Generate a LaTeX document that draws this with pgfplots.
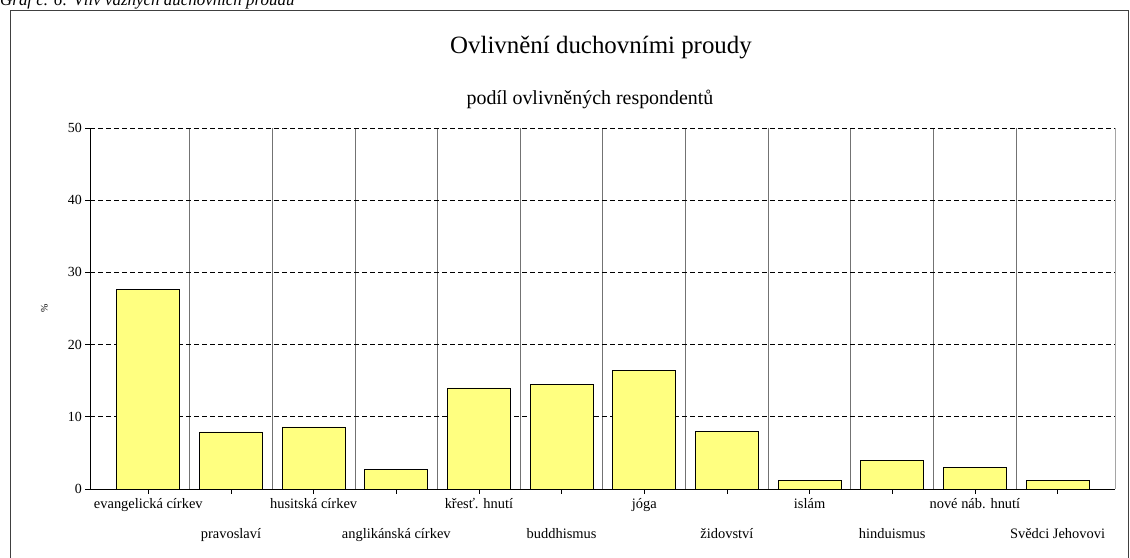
\documentclass[border=0pt]{standalone}
\usepackage{pgfplots}
\pgfplotsset{compat=1.18}
\usepackage{fontspec}
\setmainfont{Liberation Serif}
\definecolor{baryellow}{HTML}{FFFF80}
\begin{document}
\begin{tikzpicture}
\useasboundingbox (0bp,0bp) rectangle (1130bp,558bp);
\draw[line width=0.8bp, black!75] (10bp,-5bp) rectangle (1128bp,548bp);
\node[anchor=base west, font=\fontsize{17}{19}\selectfont\itshape, inner sep=0] at (0bp,552bp) {Graf č. 6: Vliv vážných duchovních proudů};
\node[anchor=base, font=\fontsize{25}{28}\selectfont, inner sep=0] at (601bp,504bp) {Ovlivnění duchovními proudy};
\node[anchor=base, font=\fontsize{20}{22}\selectfont, inner sep=0] at (590bp,453bp) {podíl ovlivněných respondentů};
\begin{axis}[
  at={(148.3bp,69bp)}, anchor=origin, scale only axis,
  width=1025bp, height=361bp,
  xmin=-0.7, xmax=11.7, ymin=0, ymax=50,
  axis x line*=bottom, axis y line*=left,
  axis line style={-, black, line width=0.8bp},
  tick align=outside, major tick length=5bp,
  tick style={black, line width=0.8bp},
  xtick pos=bottom, ytick pos=left,
  ytick={0,10,20,30,40,50},
  ymajorgrids,
  major grid style={dash pattern=on 5bp off 3bp, black, line width=0.7bp},
  minor xtick={0.5,1.5,...,10.5},
  xminorgrids,
  minor grid style={solid, black!55, line width=0.9bp},
  minor tick length=0pt,
  xtick={0,2,4,6,8,10},
  xticklabels={evangelická církev, husitská církev, křesť. hnutí, jóga, islám, nové náb. hnutí},
  extra x ticks={1,3,5,7,9,11},
  extra x tick labels={pravoslaví, anglikánská církev, buddhismus, židovství, hinduismus, Svědci Jehovovi},
  extra x tick style={xticklabel style={yshift=-30bp}},
  xticklabel style={font=\fontsize{14.5}{16}\selectfont, anchor=base, inner sep=0pt, yshift=-14.5bp},
  /pgf/number format/assume math mode=true,
  yticklabel style={font=\fontsize{14}{16}\selectfont},
  ylabel={\%},
  ylabel style={font=\fontsize{10}{12}\selectfont, at={(axis description cs:-0.045,0.5)}, anchor=center, rotate=0},
  ybar, bar width=0.76,
]
\addplot[fill=baryellow, draw=black, line width=0.8bp] coordinates {
  (0,27.6) (1,7.9) (2,8.6) (3,2.7) (4,14.0) (5,14.5)
  (6,16.4) (7,8.0) (8,1.2) (9,3.9) (10,3.0) (11,1.2)
};
\draw[black, line width=0.8bp] (rel axis cs:1,0) -- (rel axis cs:1,1);
\end{axis}
\end{tikzpicture}
\end{document}
